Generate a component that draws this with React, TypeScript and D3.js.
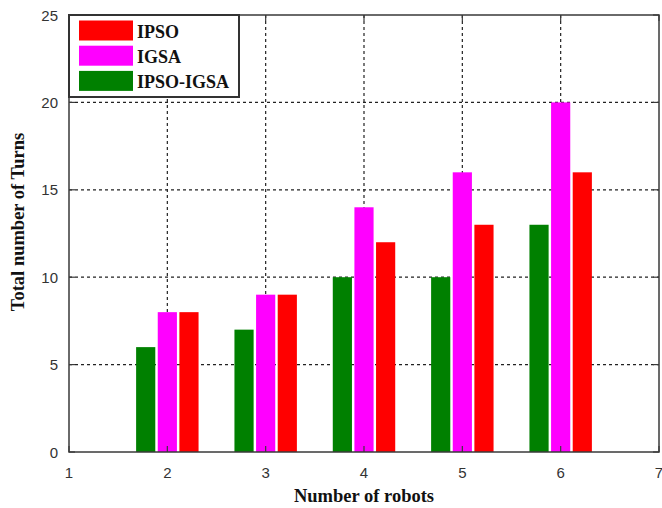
import React from "react";
import * as d3 from "d3";

const robots = [2, 3, 4, 5, 6];
const ipso = [8, 9, 12, 13, 16];
const igsa = [8, 9, 14, 16, 20];
const ipsoIgsa = [6, 7, 10, 10, 13];
const xTicks = [1, 2, 3, 4, 5, 6, 7];
const yTicks = [0, 5, 10, 15, 20, 25];

const series = [
  { name: "IPSO-IGSA", values: ipsoIgsa, color: "#008000", offset: -0.22 },
  { name: "IGSA", values: igsa, color: "#ff00ff", offset: 0 },
  { name: "IPSO", values: ipso, color: "#ff0000", offset: 0.22 },
];
const legendOrder = ["IPSO", "IGSA", "IPSO-IGSA"];

export default function App() {
  const W = 662;
  const H = 508;
  const left = 69, right = 659, top = 15, bottom = 452;
  const x = d3.scaleLinear().domain([1, 7]).range([left, right]);
  const y = d3.scaleLinear().domain([0, 25]).range([bottom, top]);
  const barW = 0.195 * (x(2) - x(1));
  const frame = "#3a3a3a";
  const serif = "Liberation Serif, Times New Roman, serif";

  return (
    <svg
      width={W}
      height={H}
      style={{ position: "absolute", left: 0, top: 0, background: "#fff" }}
    >
      {/* grid */}
      <g stroke="#222" strokeWidth={1.2} strokeDasharray="3,3">
        {xTicks.slice(1, -1).map((t) => (
          <line key={"gx" + t} x1={x(t)} x2={x(t)} y1={top} y2={bottom} />
        ))}
        {yTicks.slice(1, -1).map((t) => (
          <line key={"gy" + t} x1={left} x2={right} y1={y(t)} y2={y(t)} />
        ))}
      </g>

      {/* bars */}
      {series.map((s) =>
        s.values.map((v, i) => (
          <rect
            key={s.name + i}
            x={x(robots[i] + s.offset) - barW / 2}
            y={y(v)}
            width={barW}
            height={y(0) - y(v)}
            fill={s.color}
          />
        ))
      )}

      {/* frame and ticks */}
      <rect
        x={left}
        y={top}
        width={right - left}
        height={bottom - top}
        fill="none"
        stroke={frame}
        strokeWidth={1.5}
      />
      <g stroke={frame} strokeWidth={1.2}>
        {xTicks.map((t) => (
          <g key={"tx" + t}>
            <line x1={x(t)} x2={x(t)} y1={bottom} y2={bottom - 6} />
            <line x1={x(t)} x2={x(t)} y1={top} y2={top + 6} />
          </g>
        ))}
        {yTicks.map((t) => (
          <g key={"ty" + t}>
            <line x1={left} x2={left + 6} y1={y(t)} y2={y(t)} />
            <line x1={right} x2={right - 6} y1={y(t)} y2={y(t)} />
          </g>
        ))}
      </g>

      {/* tick labels */}
      <g fontFamily="Liberation Sans, Arial, sans-serif" fontSize={15} fill="#333">
        {xTicks.map((t) => (
          <text key={"lx" + t} x={x(t)} y={478} textAnchor="middle">
            {t}
          </text>
        ))}
        {yTicks.map((t) => (
          <text key={"ly" + t} x={58} y={y(t) + 5.5} textAnchor="end">
            {t}
          </text>
        ))}
      </g>

      {/* axis titles */}
      <g fontFamily={serif} fontWeight="bold" fontSize={18.5} fill="#111">
        <text x={(left + right) / 2} y={502} textAnchor="middle">
          Number of robots
        </text>
        <text transform="translate(24, 222) rotate(-90)" textAnchor="middle">
          Total number of Turns
        </text>
      </g>

      {/* legend */}
      <g>
        <rect x={left} y={top} width={170} height={82} fill="#fff" stroke="#333" strokeWidth={2} />
        {legendOrder.map((name, i) => {
          const s = series.find((d) => d.name === name)!;
          const cy = 30.5 + i * 25.2;
          return (
            <g key={name}>
              <rect x={79} y={cy - 10} width={54} height={20} fill={s.color} />
              <text
                x={137}
                y={cy + 7}
                fontFamily={serif}
                fontWeight="bold"
                fontSize={18}
                fill="#111"
              >
                {name}
              </text>
            </g>
          );
        })}
      </g>
    </svg>
  );
}
